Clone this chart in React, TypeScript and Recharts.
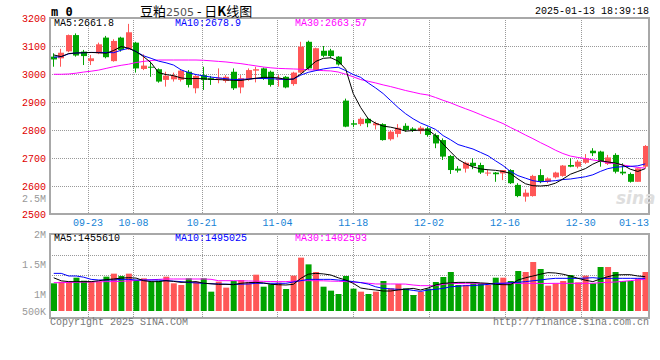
import React from "react";
import {
  ComposedChart,
  Bar,
  Line,
  XAxis,
  YAxis,
  CartesianGrid,
  Cell,
} from "recharts";

const MONO = '"Liberation Mono", "DejaVu Sans Mono", monospace';
const RED = "#ff5757";
const GREEN = "#00a300";
const GRID = "#999";
const DASH = "1 1";

// 80 trading days, 2024-09-12 .. 2025-01-13
const DATES = [
  "09-12", "09-13", "09-18", "09-19", "09-20", "09-23", "09-24", "09-25", "09-26", "09-27",
  "09-30", "10-08", "10-09", "10-10", "10-11", "10-14", "10-15", "10-16", "10-17", "10-18",
  "10-21", "10-22", "10-23", "10-24", "10-25", "10-28", "10-29", "10-30", "10-31", "11-01",
  "11-04", "11-05", "11-06", "11-07", "11-08", "11-11", "11-12", "11-13", "11-14", "11-15",
  "11-18", "11-19", "11-20", "11-21", "11-22", "11-25", "11-26", "11-27", "11-28", "11-29",
  "12-02", "12-03", "12-04", "12-05", "12-06", "12-09", "12-10", "12-11", "12-12", "12-13",
  "12-16", "12-17", "12-18", "12-19", "12-20", "12-23", "12-24", "12-25", "12-26", "12-27",
  "12-30", "12-31", "01-02", "01-03", "01-06", "01-07", "01-08", "01-09", "01-10", "01-13",
];

const OPEN = [
  3062, 3056, 3081, 3139, 3080, 3046, 3074, 3130, 3046, 3130,
  3088, 3112, 3018, 3026, 3017, 2979, 2981, 2979, 3008, 2949,
  2996, 2985, 2983, 2975, 3008, 2952, 2981, 3012, 3020, 3008,
  2979, 2990, 2964, 3005, 3115, 3014, 3083, 3084, 3062, 2905,
  2824, 2821, 2840, 2817, 2821, 2767, 2786, 2815, 2805, 2796,
  2806, 2782, 2764, 2707, 2662, 2662, 2683, 2675, 2647, 2648,
  2645, 2657, 2604, 2562, 2564, 2639, 2615, 2631, 2636, 2675,
  2669, 2683, 2726, 2723, 2679, 2711, 2651, 2643, 2615, 2669,
];
const HIGH = [
  3074, 3090, 3141, 3145, 3086, 3068, 3112, 3136, 3124, 3133,
  3179, 3115, 3070, 3044, 3020, 3008, 3005, 3014, 3014, 2996,
  3026, 2993, 3020, 2996, 3020, 2996, 3020, 3026, 3023, 3012,
  2996, 2993, 3008, 3115, 3119, 3094, 3100, 3090, 3064, 2912,
  2836, 2845, 2845, 2830, 2824, 2800, 2821, 2824, 2810, 2814,
  2812, 2788, 2770, 2711, 2671, 2687, 2699, 2683, 2657, 2650,
  2657, 2660, 2610, 2588, 2640, 2660, 2631, 2651, 2675, 2699,
  2693, 2714, 2735, 2726, 2711, 2717, 2681, 2648, 2663, 2746,
];
const LOW = [
  3026, 3026, 3078, 3062, 3032, 3032, 3071, 3056, 3044, 3080,
  3086, 3005, 3014, 2990, 2969, 2955, 2973, 2973, 2952, 2931,
  2943, 2961, 2967, 2969, 2943, 2931, 2976, 2970, 2979, 2955,
  2955, 2949, 2958, 3002, 3014, 3012, 3060, 3056, 3030, 2810,
  2810, 2814, 2810, 2802, 2762, 2762, 2774, 2794, 2793, 2786,
  2776, 2735, 2693, 2643, 2648, 2648, 2660, 2643, 2636, 2615,
  2621, 2607, 2560, 2544, 2562, 2610, 2610, 2627, 2633, 2667,
  2663, 2679, 2707, 2669, 2675, 2645, 2639, 2612, 2615, 2663,
];
const CLOSE = [
  3052, 3076, 3139, 3066, 3064, 3056, 3106, 3060, 3118, 3086,
  3149, 3020, 3030, 3023, 2973, 2994, 2994, 3012, 2961, 2993,
  2979, 2979, 2987, 2990, 2949, 2985, 3014, 3017, 2985, 2961,
  2985, 2952, 3005, 3098, 3020, 3092, 3065, 3064, 3034, 2812,
  2819, 2840, 2824, 2824, 2764, 2794, 2808, 2800, 2798, 2808,
  2782, 2752, 2705, 2657, 2655, 2683, 2671, 2648, 2648, 2642,
  2657, 2610, 2564, 2576, 2636, 2615, 2627, 2648, 2673, 2669,
  2687, 2699, 2717, 2687, 2702, 2651, 2645, 2615, 2663, 2743,
];

const MA5 = [
  3068, 3062, 3073, 3075, 3076, 3077, 3076, 3074, 3084, 3098,
  3092, 3080, 3062, 3040, 3005, 2998, 2994, 2986, 2983, 2984,
  2983, 2981, 2980, 2979, 2977, 2977, 2981, 2985, 2988, 2988,
  2986, 2981, 2982, 3000, 3022, 3045, 3056, 3058, 3046, 3017,
  2930, 2880, 2840, 2824, 2814, 2810, 2804, 2796, 2798, 2800,
  2800, 2780, 2750, 2722, 2695, 2680, 2668, 2661, 2658, 2656,
  2652, 2645, 2625, 2608, 2601, 2600, 2602, 2610, 2625, 2642,
  2652, 2662, 2678, 2690, 2686, 2682, 2675, 2660, 2652, 2662,
];
const MA10 = [
  3060, 3062, 3072, 3075, 3076, 3077, 3077, 3077, 3076, 3085,
  3092, 3080, 3065, 3056, 3046, 3040, 3032, 3015, 3005, 2998,
  2993, 2989, 2986, 2983, 2980, 2981, 2982, 2984, 2984, 2983,
  2982, 2980, 2982, 2996, 3006, 3012, 3018, 3022, 3024, 3012,
  2998, 2988, 2968, 2950, 2930, 2905, 2880, 2858, 2840, 2825,
  2814, 2802, 2780, 2765, 2748, 2740, 2732, 2720, 2708, 2690,
  2673, 2652, 2637, 2628, 2619, 2615, 2617, 2619, 2623, 2625,
  2629, 2633, 2640, 2652, 2662, 2667, 2669, 2670, 2672, 2679,
];
const MA30 = [
  2999, 2999, 3000, 3003, 3007, 3010, 3014, 3020, 3026, 3031,
  3035, 3041, 3045, 3048, 3050, 3050, 3050, 3050, 3050, 3050,
  3049, 3047, 3045, 3043, 3040, 3037, 3033, 3029, 3025, 3022,
  3020, 3019, 3018, 3017, 3015, 3014, 3012, 3011, 3007, 2999,
  2990, 2980, 2974, 2968, 2961, 2955, 2948, 2941, 2935, 2929,
  2925, 2916, 2906, 2897, 2886, 2876, 2866, 2855, 2844, 2834,
  2823, 2809, 2796, 2782, 2769, 2755, 2742, 2728, 2716, 2707,
  2702, 2698, 2693, 2689, 2683, 2680, 2675, 2671, 2666, 2664,
];

const VOLUME = [
  1178000, 1206000, 1206000, 1272000, 1222000, 1206000, 1206000, 1289000, 1339000, 1300000,
  1339000, 1233000, 1261000, 1206000, 1222000, 1289000, 1178000, 1150000, 1261000, 1206000,
  1261000, 1039000, 1206000, 1106000, 1217000, 1233000, 1194000, 1322000, 1122000, 1161000,
  1189000, 1083000, 1306000, 1606000, 1494000, 1367000, 1122000, 1056000, 1000000, 1300000,
  1089000, 1039000, 1000000, 1039000, 1217000, 1094000, 1167000, 1094000, 983000, 1039000,
  1089000, 1200000, 1283000, 1367000, 1150000, 1150000, 1194000, 1178000, 1150000, 1272000,
  1272000, 1217000, 1383000, 1367000, 1533000, 1417000, 1139000, 1178000, 1217000, 1317000,
  1194000, 1306000, 1178000, 1450000, 1450000, 1367000, 1217000, 1217000, 1256000, 1367000,
];
const VOL_MA5 = [
  1270000, 1220000, 1206000, 1206000, 1206000, 1206000, 1220000, 1240000, 1250000, 1265000,
  1272000, 1265000, 1222000, 1206000, 1206000, 1222000, 1210000, 1194000, 1200000, 1206000,
  1180000, 1170000, 1161000, 1161000, 1155000, 1178000, 1190000, 1194000, 1185000, 1161000,
  1155000, 1150000, 1161000, 1261000, 1330000, 1344000, 1335000, 1317000, 1270000, 1233000,
  1178000, 1100000, 1080000, 1067000, 1050000, 1050000, 1067000, 1080000, 1094000, 1067000,
  1100000, 1150000, 1178000, 1185000, 1194000, 1194000, 1194000, 1185000, 1178000, 1161000,
  1155000, 1155000, 1233000, 1270000, 1300000, 1330000, 1356000, 1350000, 1330000, 1300000,
  1261000, 1230000, 1206000, 1250000, 1289000, 1317000, 1322000, 1322000, 1300000, 1289000,
];
const VOL_MA10 = [
  1344000, 1344000, 1300000, 1300000, 1280000, 1244000, 1233000, 1233000, 1233000, 1244000,
  1244000, 1233000, 1233000, 1233000, 1233000, 1222000, 1215000, 1206000, 1192000, 1185000,
  1178000, 1172000, 1167000, 1164000, 1161000, 1164000, 1167000, 1178000, 1178000, 1178000,
  1178000, 1178000, 1200000, 1222000, 1244000, 1244000, 1244000, 1244000, 1233000, 1222000,
  1206000, 1190000, 1165000, 1120000, 1094000, 1085000, 1078000, 1078000, 1060000, 1044000,
  1067000, 1078000, 1094000, 1120000, 1130000, 1139000, 1139000, 1150000, 1160000, 1178000,
  1178000, 1189000, 1195000, 1206000, 1220000, 1233000, 1250000, 1261000, 1261000, 1261000,
  1261000, 1265000, 1272000, 1261000, 1261000, 1261000, 1261000, 1261000, 1261000, 1261000,
];
const VOL_MA30 = [
  1189000, 1189000, 1192000, 1195000, 1197000, 1200000, 1203000, 1206000, 1206000, 1212000,
  1218000, 1225000, 1232000, 1238000, 1244000, 1250000, 1250000, 1250000, 1250000, 1250000,
  1250000, 1245000, 1222000, 1222000, 1222000, 1220000, 1217000, 1214000, 1211000, 1208000,
  1206000, 1206000, 1215000, 1222000, 1222000, 1222000, 1220000, 1215000, 1212000, 1206000,
  1198000, 1190000, 1180000, 1167000, 1167000, 1167000, 1167000, 1165000, 1150000, 1139000,
  1139000, 1139000, 1160000, 1178000, 1175000, 1172000, 1172000, 1172000, 1172000, 1178000,
  1178000, 1178000, 1178000, 1178000, 1178000, 1176000, 1176000, 1178000, 1178000, 1178000,
  1178000, 1178000, 1178000, 1189000, 1194000, 1200000, 1210000, 1222000, 1235000, 1244000,
];

const DATE_TICKS = ["09-23", "10-08", "10-21", "11-04", "11-18", "12-02", "12-16", "12-30", "01-13"];
const PRICE_TICKS = [2500, 2600, 2700, 2800, 2900, 3000, 3100, 3200];
const VOL_TICKS = [716667, 1000000, 1500000, 2000000];
const VOL_TICK_LABELS = ["500K", "1M", "1.5M", "2M"];

const rows = DATES.map((date, i) => ({
  date,
  o: OPEN[i],
  h: HIGH[i],
  l: LOW[i],
  c: CLOSE[i],
  ma5: MA5[i],
  ma10: MA10[i],
  ma30: MA30[i],
  vol: VOLUME[i],
  vma5: VOL_MA5[i],
  vma10: VOL_MA10[i],
  vma30: VOL_MA30[i],
}));

// plot box shared by both panels
const PLOT_LEFT = 50;
const PLOT_RIGHT = 649;
const PRICE_TOP = 18;
const PRICE_BOTTOM = 214;
const VOL_TOP = 234;
const VOL_BOTTOM = 318;

const dateIdx = DATE_TICKS.map((d) => DATES.indexOf(d));
// sina spaces its date grid a little wider than the candles; last date sits on the border
const gridX = dateIdx
  .slice(0, -1)
  .map((i) => Math.round(PLOT_LEFT + (i * (PLOT_RIGHT - PLOT_LEFT)) / (DATES.length - 1)) + 0.5);
const priceGridY = PRICE_TICKS.slice(1, -1).map(
  (v) => Math.round(PRICE_BOTTOM - ((v - PRICE_TICKS[0]) * (PRICE_BOTTOM - PRICE_TOP)) / 700) + 0.5
);

const Candle = (props: any) => {
  const { x, y, width, height, payload } = props;
  const { o, h, l, c } = payload;
  const top = Math.min(y, y + height);
  const span = Math.abs(height);
  const k = h === l ? 0 : span / (h - l);
  const yO = top + (h - o) * k;
  const yC = top + (h - c) * k;
  const color = c >= o ? RED : GREEN;
  const rx = Math.round(x);
  const bodyTop = Math.min(yO, yC);
  const bodyH = Math.max(1, Math.abs(yO - yC));
  return (
    <g>
      <line x1={rx + 2.5} x2={rx + 2.5} y1={top} y2={top + span} stroke={color} strokeWidth={1} />
      <rect x={rx} y={bodyTop} width={width} height={bodyH} fill={color} />
    </g>
  );
};

const DateTick = (props: any) => {
  const { x, payload } = props;
  const cx = Math.min(x, PLOT_RIGHT - 15);
  return (
    <text x={cx} y={226} textAnchor="middle" fill="#1683d6" fontSize={10} fontFamily={MONO}>
      {DATES[payload.value]}
    </text>
  );
};

const Txt = ({ x, y, color = "#000", right, size = 10, children }: any) => (
  <div
    style={{
      position: "absolute",
      top: y - 5,
      left: right ? undefined : x,
      right: right ? 660 - x : undefined,
      lineHeight: "10px",
      fontSize: size,
      fontFamily: MONO,
      color,
      whiteSpace: "nowrap",
    }}
  >
    {children}
  </div>
);

export default function App() {
  return (
    <div
      style={{
        position: "absolute",
        left: 0,
        top: 0,
        width: 660,
        height: 360,
        background: "#fff",
        overflow: "hidden",
      }}
    >
      {/* vertical date grid, under both panels */}
      <svg width={660} height={360} style={{ position: "absolute", left: 0, top: 0 }}>
        {gridX.map((x) => (
          <g key={x}>
            <line x1={x} x2={x} y1={PRICE_TOP} y2={PRICE_BOTTOM} stroke={GRID} strokeWidth={1} strokeDasharray={DASH} shapeRendering="crispEdges" />
            <line x1={x} x2={x} y1={VOL_TOP} y2={VOL_BOTTOM} stroke={GRID} strokeWidth={1} strokeDasharray={DASH} shapeRendering="crispEdges" />
          </g>
        ))}
      </svg>

      <div style={{ position: "absolute", top: 0, left: 0 }}>
        <ComposedChart width={660} height={230} data={rows} margin={{ top: 18, right: 11, bottom: 0, left: 0 }}>
          <XAxis
            xAxisId="date"
            type="number"
            domain={[0, DATES.length - 1]}
            ticks={dateIdx}
            interval={0}
            height={16}
            tickSize={0}
            tickMargin={0}
            axisLine={false}
            tickLine={false}
            tick={<DateTick />}
            allowDataOverflow
          />
          <XAxis dataKey="date" hide height={0} />
          <YAxis
            domain={[2500, 3200]}
            ticks={PRICE_TICKS}
            interval={0}
            width={50}
            tickSize={0}
            tickMargin={4}
            axisLine={false}
            tickLine={false}
            tick={{ fill: "#e00000", fontSize: 10, fontFamily: MONO }}
            allowDataOverflow
          />
          <CartesianGrid vertical={false} horizontalPoints={priceGridY} stroke={GRID} strokeDasharray={DASH} />
          <Bar dataKey={(d: any) => [d.l, d.h]} barSize={6} shape={<Candle />} isAnimationActive={false} />
          <Line dataKey="ma30" stroke="#ff00ff" strokeWidth={1} dot={false} activeDot={false} isAnimationActive={false} />
          <Line dataKey="ma10" stroke="#0000ff" strokeWidth={1} dot={false} activeDot={false} isAnimationActive={false} />
          <Line dataKey="ma5" stroke="#000" strokeWidth={1} dot={false} activeDot={false} isAnimationActive={false} />
        </ComposedChart>
      </div>

      <div style={{ position: "absolute", top: 220, left: 0 }}>
        <ComposedChart width={660} height={98} data={rows} margin={{ top: 14, right: 11, bottom: 7, left: 0 }}>
          <XAxis dataKey="date" hide height={0} />
          <YAxis
            domain={[VOL_TICKS[0], VOL_TICKS[VOL_TICKS.length - 1]]}
            ticks={VOL_TICKS}
            interval={0}
            width={50}
            tickSize={0}
            tickMargin={4}
            axisLine={false}
            tickLine={false}
            tickFormatter={(v: number) => VOL_TICK_LABELS[VOL_TICKS.indexOf(v)]}
            tick={{ fill: "#999", fontSize: 10, fontFamily: MONO }}
            allowDataOverflow
          />
          <CartesianGrid vertical={false} horizontalPoints={[35.5, 55.5, 75.5]} stroke={GRID} strokeDasharray={DASH} />
          <Bar dataKey="vol" barSize={6} isAnimationActive={false}>
            {rows.map((r, i) => (
              <Cell key={i} fill={r.c >= r.o ? RED : GREEN} />
            ))}
          </Bar>
          <Line dataKey="vma30" stroke="#ff00ff" strokeWidth={1} dot={false} activeDot={false} isAnimationActive={false} />
          <Line dataKey="vma10" stroke="#0000ff" strokeWidth={1} dot={false} activeDot={false} isAnimationActive={false} />
          <Line dataKey="vma5" stroke="#000" strokeWidth={1} dot={false} activeDot={false} isAnimationActive={false} />
        </ComposedChart>
      </div>

      {/* frames */}
      <div style={{ position: "absolute", left: 49, top: 17, width: 601, height: 198, border: "2px solid #a8a8a8", boxSizing: "border-box", pointerEvents: "none" }} />
      <div style={{ position: "absolute", left: 49, top: 233, width: 601, height: 86, border: "2px solid #a8a8a8", boxSizing: "border-box", pointerEvents: "none" }} />

      {/* header */}
      <div style={{ position: "absolute", left: 51, top: 5, fontSize: 12, lineHeight: "14px", fontWeight: "bold", fontFamily: '"DejaVu Sans Mono", monospace' }}>
        m 0
      </div>
      <div style={{ position: "absolute", left: 140, top: 4, fontSize: 13, lineHeight: "13px", fontFamily: '"Noto Sans CJK SC", sans-serif', whiteSpace: "nowrap" }}>
        豆粕<span style={{ fontSize: 11, color: "#555", fontFamily: '"DejaVu Sans", sans-serif' }}>2505</span> - 日<b>K</b>线图
      </div>
      <Txt x={649} y={12} right>2025-01-13 18:39:18</Txt>

      <Txt x={54} y={24}>MA5:2661.8</Txt>
      <Txt x={175} y={24} color="#0000ff">MA10:2678.9</Txt>
      <Txt x={295} y={24} color="#ff00ff">MA30:2663.57</Txt>

      <Txt x={46} y={200} color="#999" right>2.5M</Txt>
      <div style={{ position: "absolute", left: 616, top: 188, fontSize: 17, fontWeight: "bold", fontStyle: "italic", color: "#dedede", fontFamily: '"DejaVu Sans", sans-serif' }}>
        sina
      </div>

      <Txt x={54} y={239}>MA5:1455610</Txt>
      <Txt x={175} y={239} color="#0000ff">MA10:1495025</Txt>
      <Txt x={295} y={239} color="#ff00ff">MA30:1402593</Txt>

      <Txt x={50} y={323} color="#777">Copyright 2025 SINA.COM</Txt>
      <Txt x={649} y={323} color="#777" right>http://finance.sina.com.cn</Txt>
    </div>
  );
}
